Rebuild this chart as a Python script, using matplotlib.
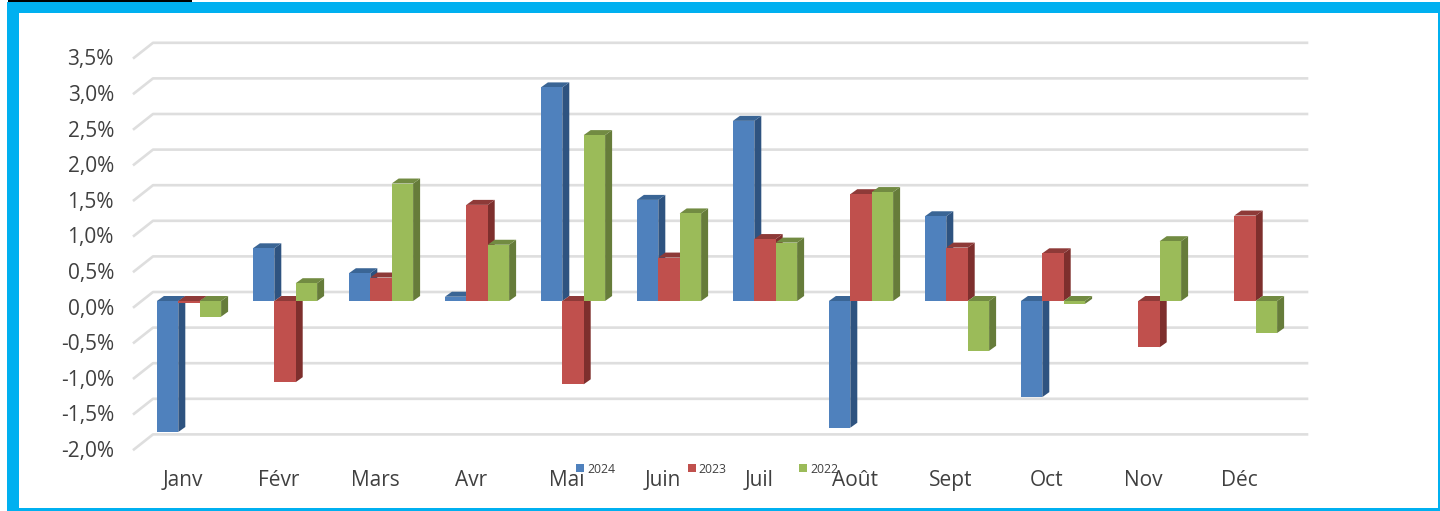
import matplotlib
matplotlib.use('Agg')
from matplotlib import pyplot as plt
from matplotlib.patches import Polygon, Rectangle
from matplotlib.transforms import ScaledTranslation

months = ["Janv", "Févr", "Mars", "Avr", "Mai", "Juin", "Juil", "Août", "Sept", "Oct", "Nov", "Déc"]
y_ticks = [-2.0, -1.5, -1.0, -0.5, 0.0, 0.5, 1.0, 1.5, 2.0, 2.5, 3.0, 3.5]
y_labels = ["-2,0%", "-1,5%", "-1,0%", "-0,5%", "0,0%", "0,5%", "1,0%", "1,5%", "2,0%", "2,5%", "3,0%", "3,5%"]
v2024 = [-1.84, 0.74, 0.39, 0.06, 3.00, 1.42, 2.53, -1.78, 1.19, -1.35, 0.0, 0.0]
v2023 = [-0.03, -1.14, 0.33, 1.35, -1.17, 0.61, 0.87, 1.50, 0.75, 0.67, -0.65, 1.20]
v2022 = [-0.22, 0.25, 1.65, 0.79, 2.33, 1.23, 0.82, 1.53, -0.70, -0.04, 0.84, -0.45]

W, H = 1440, 511
X0, X1 = 141, 1293      # bar plane, pixels
Y_BOT, Y_TOP = 443.4, 51.8
PX_X = 96.0             # pixels per month
PX_Y = 71.2             # pixels per 1 %
BAR_W = 21.4 / PX_X

fig = plt.figure(figsize=(W / 100, H / 100), dpi=100, facecolor="white")
ax = fig.add_axes([X0 / W, 1 - Y_BOT / H, (X1 - X0) / W, (Y_BOT - Y_TOP) / H])
ax.set_xlim(-0.5, 11.5)
ax.set_ylim(-2.0, 3.5)
ax.patch.set_alpha(0)
for s in ax.spines.values():
    s.set_visible(False)


def px(dx, dy):
    # pixel offset -> data units
    return dx / PX_X, dy / PX_Y


# gridlines: floor edge at the left then along the back wall
fx, fy = px(-7, -6)
bx, by = px(12, 9)
for v in y_ticks:
    ax.plot([-0.5 + fx, -0.5 + bx, 11.5 + bx + 2 / PX_X], [v + fy, v + by, v + by],
            color="#DEDEDE", lw=1.9, clip_on=False, zorder=1, solid_joinstyle="round")

series = [
    ("2024", v2024, "#4F81BD", "#2E5380", "#3A6595"),
    ("2023", v2023, "#C0504D", "#7E2F2D", "#8E3A38"),
    ("2022", v2022, "#9BBB59", "#667C3A", "#728B42"),
]
dep_x, dep_y = px(7, 5)
handles = []
z = 2
for m in range(len(months)):
    for i, (name, vals, col, side, top) in enumerate(series):
        v = vals[m]
        if v == 0:
            continue
        left = m + (i - 1.5) * BAR_W
        right = left + BAR_W
        high = max(v, 0)
        ax.add_patch(Polygon([(right, 0), (right + dep_x, dep_y), (right + dep_x, v + dep_y), (right, v)],
                             facecolor=side, edgecolor="none", clip_on=False, zorder=z))
        ax.add_patch(Polygon([(left, high), (left + dep_x, high + dep_y), (right + dep_x, high + dep_y), (right, high)],
                             facecolor=top, edgecolor="none", clip_on=False, zorder=z))
        ax.bar(left, v, width=BAR_W, align="edge", color=col, clip_on=False, zorder=z + 0.5)
        z += 1
for name, vals, col, side, top in series:
    handles.append(Rectangle((0, 0), 1, 1, facecolor=col, label=name))

ax.set_yticks(y_ticks, y_labels)
ax.set_xticks(range(len(months)), months)
ax.tick_params(axis="both", length=0, colors="#404040", labelsize=15)
ax.tick_params(axis="y", pad=19.5)
ax.tick_params(axis="x", pad=19.5)
plt.setp(ax.get_xticklabels() + ax.get_yticklabels(), family="Open Sans")
for t in ax.get_yticklabels():
    t.set_transform(t.get_transform() + ScaledTranslation(0, -5.5 / 100, fig.dpi_scale_trans))
for t in ax.get_xticklabels():
    t.set_transform(t.get_transform() + ScaledTranslation(-6 / 100, 0, fig.dpi_scale_trans))

leg = fig.legend(handles=handles, ncol=3, loc="center left",
                 bbox_to_anchor=(576 / W, 1 - 469 / H), frameon=False, borderpad=0,
                 borderaxespad=0, handlelength=0.65, handleheight=0.65, handletextpad=0.25,
                 columnspacing=5.95, prop={"family": "Open Sans", "size": 8.8})
for t in leg.get_texts():
    t.set_color("#404040")
leg.set_zorder(50)

# slide frame, in pixels from the top left
frame = "#00B0F0"
boxes = [(7, 2, W - 7, 11), (7, 2, 12, H - 2), (7, 508, W - 7, 3), (1438, 2, 2, H - 2)]
for x, y, w, h in boxes:
    fig.add_artist(Rectangle((x / W, 1 - (y + h) / H), w / W, h / H, facecolor=frame,
                             edgecolor="none", transform=fig.transFigure))
fig.add_artist(Rectangle((8 / W, 1 - 2 / H), 184 / W, 2 / H, facecolor="black",
                         edgecolor="none", transform=fig.transFigure))

fig.savefig("out.png", dpi=100, facecolor="white")
